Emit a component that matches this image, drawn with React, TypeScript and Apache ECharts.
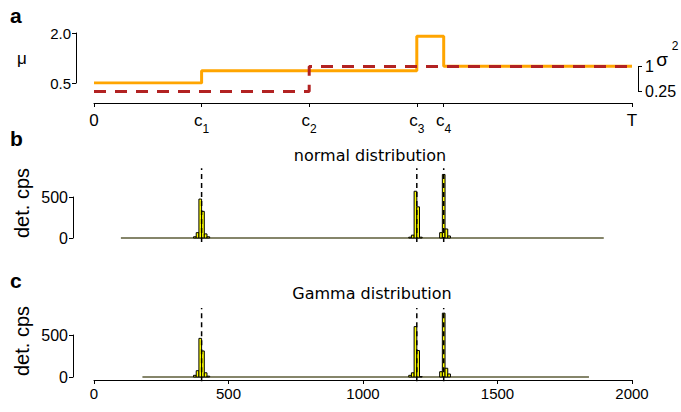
import React, { useEffect, useRef } from 'react';
import * as echarts from 'echarts';

// ---- data ----
const changePoints = [0, 400, 800, 1200, 1300, 2000];
const changeLabels = ['0', 'c1', 'c2', 'c3', 'c4', 'T'];
const muBreaks = [0, 400, 1200, 1300, 2000];
const muLevels = [0.5, 0.87, 1.9, 1.0];
const sigmaBreaks = [0, 800, 2000];
const sigmaLevels = [0.25, 1];
const muTicks = [0.5, 2.0];
const sigmaTicks = [0.25, 1];
const trueChangePoints = [400, 1200, 1300];

const binWidth = 10;
const normalBinStarts = [370, 380, 390, 400, 410, 420, 1170, 1180, 1190, 1200, 1210, 1285, 1295, 1305, 1315];
const normalCounts = [15, 65, 475, 325, 50, 15, 10, 35, 570, 380, 10, 65, 775, 110, 25];
const gammaBinStarts = [370, 380, 390, 400, 410, 420, 1170, 1180, 1190, 1200, 1210, 1285, 1295, 1305, 1315];
const gammaCounts = [20, 75, 460, 310, 50, 10, 20, 50, 600, 315, 5, 63, 760, 104, 36];
const normalBackground = [100, 1895];
const gammaBackground = [180, 1840];

const FONT = 'Liberation Sans';
const TITLE_FONT = 'DejaVu Sans';

function steps(breaks: number[], levels: number[]) {
  const pts: number[][] = [];
  levels.forEach((v, i) => {
    pts.push([breaks[i], v]);
    pts.push([breaks[i + 1], v]);
  });
  return pts;
}

const axisLine = { show: true, onZero: false, lineStyle: { color: '#000', width: 1 } };

function histSeries(idx: number, starts: number[], counts: number[], bg: number[], top: number) {
  const s: any[] = [];
  s.push({
    type: 'line', xAxisIndex: idx, yAxisIndex: idx, symbol: 'none', silent: true,
    data: [[bg[0], 0], [bg[1], 0]],
    lineStyle: { color: '#85856a', width: 2 }, z: 1,
  });
  s.push({
    type: 'custom', xAxisIndex: idx, yAxisIndex: idx, clip: false, z: 2,
    data: starts.map((x, i) => [x, x + binWidth, counts[i]]),
    encode: { x: [0, 1], y: 2 },
    renderItem: (params: any, api: any) => {
      const p0 = api.coord([api.value(0), 0]);
      const p1 = api.coord([api.value(1), api.value(2)]);
      return {
        type: 'rect',
        shape: { x: p0[0], y: p1[1], width: p1[0] - p0[0], height: p0[1] - p1[1] },
        style: { fill: '#ffff00', stroke: '#000', lineWidth: 1 },
      };
    },
  });
  trueChangePoints.forEach((c) => {
    s.push({
      type: 'line', xAxisIndex: idx, yAxisIndex: idx, symbol: 'none', clip: false, silent: true,
      data: [[c, -50], [c, top]],
      lineStyle: { color: '#000', width: 1.5, type: [5, 4] }, z: 3,
    });
  });
  return s;
}

export default function App() {
  const ref = useRef<HTMLDivElement>(null);
  useEffect(() => {
    if (!ref.current) return;
    const chart = echarts.init(ref.current, undefined, { renderer: 'svg' });
    const grids = [
      { left: 94, right: 49, top: 33, height: 50 },
      { left: 94, right: 49, top: 66.5, height: 25 },
      { left: 94, right: 49, top: 197, height: 41 },
      { left: 94, right: 49, top: 335, height: 42 },
    ].map((g) => ({ ...g, containLabel: false, outerBoundsMode: 'none' }));

    const option: any = {
      animation: false,
      textStyle: { fontFamily: FONT },
      grid: grids,
      xAxis: [
        {
          gridIndex: 0, type: 'value', min: 0, max: 2000, offset: 20,
          axisLine, splitLine: { show: false },
          axisTick: { show: true, length: 4, customValues: changePoints, lineStyle: { color: '#000' } },
          axisLabel: {
            customValues: changePoints, margin: 9, color: '#000', fontFamily: FONT, fontSize: 17,
            formatter: (v: number) => {
              const l = changeLabels[changePoints.indexOf(v)] || '';
              if (l.length > 1) return `{m|${l[0]}}{s|${l.slice(1)}}`;
              return `{m|${l}}`;
            },
            rich: {
              m: { fontSize: 17, lineHeight: 20, verticalAlign: 'top', fontFamily: FONT, color: '#000' },
              s: { fontSize: 12, lineHeight: 12, verticalAlign: 'top', fontFamily: FONT, color: '#000', padding: [11, 0, 0, 0] },
            },
          },
        },
        { gridIndex: 1, type: 'value', min: 0, max: 2000, show: false },
        { gridIndex: 2, type: 'value', min: 0, max: 2000, show: false },
        {
          gridIndex: 3, type: 'value', min: 0, max: 2000, interval: 500, offset: 3,
          axisLine, splitLine: { show: false },
          axisTick: { show: true, length: 4, lineStyle: { color: '#000' } },
          axisLabel: { margin: 6, color: '#000', fontFamily: FONT, fontSize: 15, formatter: (v: number) => String(v) },
        },
      ],
      yAxis: [
        {
          gridIndex: 0, type: 'value', min: 0.5, max: 2.0, offset: 18,
          axisLine, splitLine: { show: false },
          axisTick: { show: true, length: 4, customValues: muTicks, lineStyle: { color: '#000' } },
          axisLabel: {
            customValues: muTicks, margin: 5, color: '#000', fontFamily: FONT, fontSize: 15,
            formatter: (v: number) => v.toFixed(1),
          },
        },
        {
          gridIndex: 1, type: 'value', position: 'right', min: 0.25, max: 1, offset: 6,
          axisLine, splitLine: { show: false },
          axisTick: { show: true, length: 4, customValues: sigmaTicks, lineStyle: { color: '#000' } },
          axisLabel: {
            customValues: sigmaTicks, margin: 7, color: '#000', fontFamily: FONT, fontSize: 16,
            formatter: (v: number) => String(v),
          },
        },
        {
          gridIndex: 2, type: 'value', min: 0, max: 500, interval: 500, offset: 21,
          axisLine, splitLine: { show: false },
          axisTick: { show: true, length: 4, lineStyle: { color: '#000' } },
          axisLabel: { margin: 5, color: '#000', fontFamily: FONT, fontSize: 16 },
        },
        {
          gridIndex: 3, type: 'value', min: 0, max: 500, interval: 500, offset: 21,
          axisLine, splitLine: { show: false },
          axisTick: { show: true, length: 4, lineStyle: { color: '#000' } },
          axisLabel: { margin: 5, color: '#000', fontFamily: FONT, fontSize: 16 },
        },
      ],
      series: [
        {
          type: 'line', xAxisIndex: 0, yAxisIndex: 0, symbol: 'none', silent: true,
          data: steps(muBreaks, muLevels),
          lineStyle: { color: '#FFA500', width: 3 }, z: 2,
        },
        {
          type: 'line', xAxisIndex: 1, yAxisIndex: 1, symbol: 'none', silent: true,
          data: steps(sigmaBreaks, sigmaLevels),
          lineStyle: { color: '#B22222', width: 3, type: [12, 9] }, z: 3,
        },
        ...histSeries(2, normalBinStarts, normalCounts, normalBackground, 850),
        ...histSeries(3, gammaBinStarts, gammaCounts, gammaBackground, 820),
      ],
      graphic: [
        { type: 'text', x: 10, y: 15, style: { text: 'a', font: `bold 21px "${FONT}"`, fill: '#000', textVerticalAlign: 'middle' } },
        { type: 'text', x: 10, y: 138, style: { text: 'b', font: `bold 21px "${FONT}"`, fill: '#000', textVerticalAlign: 'middle' } },
        { type: 'text', x: 10, y: 280, style: { text: 'c', font: `bold 21px "${FONT}"`, fill: '#000', textVerticalAlign: 'middle' } },
        { type: 'text', x: 22, y: 58, style: { text: 'μ', font: `17px "${FONT}"`, fill: '#000', textAlign: 'center', textVerticalAlign: 'middle' } },
        { type: 'text', x: 662, y: 59, style: { text: 'σ', font: `19px "${FONT}"`, fill: '#000', textAlign: 'center', textVerticalAlign: 'middle' } },
        { type: 'text', x: 675, y: 46, style: { text: '2', font: `12px "${FONT}"`, fill: '#000', textAlign: 'center', textVerticalAlign: 'middle' } },
        { type: 'text', x: 22, y: 203, rotation: Math.PI / 2, style: { text: 'det. cps', font: `20px "${FONT}"`, fill: '#000', textAlign: 'center', textVerticalAlign: 'middle' } },
        { type: 'text', x: 22, y: 341, rotation: Math.PI / 2, style: { text: 'det. cps', font: `20px "${FONT}"`, fill: '#000', textAlign: 'center', textVerticalAlign: 'middle' } },
        { type: 'text', x: 370, y: 155, style: { text: 'normal distribution', font: `16px "${TITLE_FONT}"`, fill: '#000', textAlign: 'center', textVerticalAlign: 'middle' } },
        { type: 'text', x: 372, y: 293, style: { text: 'Gamma distribution', font: `16px "${TITLE_FONT}"`, fill: '#000', textAlign: 'center', textVerticalAlign: 'middle' } },
      ],
    };
    chart.setOption(option);
    return () => chart.dispose();
  }, []);
  return <div ref={ref} style={{ position: 'absolute', left: 0, top: 0, width: 681, height: 412 }} />;
}
